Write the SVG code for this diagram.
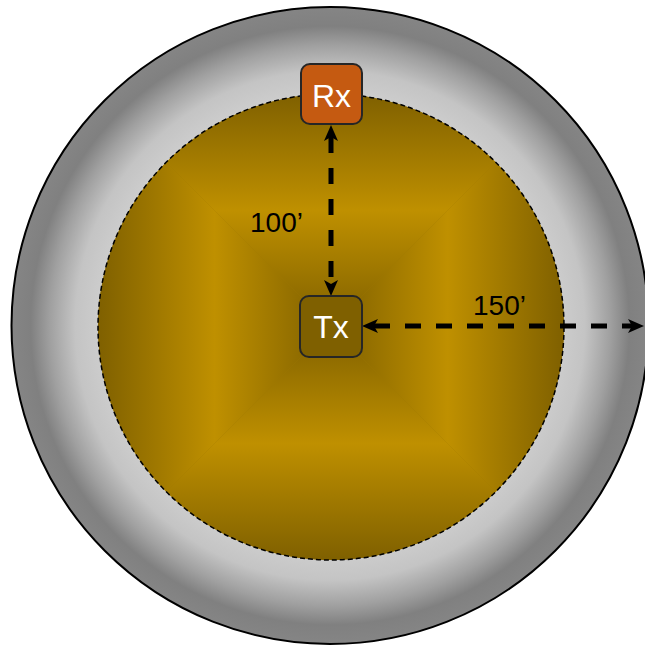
<svg xmlns="http://www.w3.org/2000/svg" width="645" height="647" viewBox="0 0 645 647">
<style>
.lbl{font-family:"Liberation Sans",Arial,sans-serif;font-size:28px;fill:#000;}
.nodetxt{font-family:"Liberation Sans",Arial,sans-serif;font-size:32px;fill:#fff;text-anchor:middle;}
.conn{stroke:#000;stroke-width:5;stroke-dasharray:16 15;fill:none;marker-start:url(#ah);marker-end:url(#ah);}
.box{stroke:#262626;stroke-width:2;}
</style>
<defs>
<radialGradient id="grayG" gradientUnits="userSpaceOnUse" cx="330" cy="325.5" r="318.5">
<stop offset="0" stop-color="#cccccc"/>
<stop offset="0.73" stop-color="#cccccc"/>
<stop offset="0.8" stop-color="#c4c4c4"/>
<stop offset="0.88" stop-color="#a0a0a0"/>
<stop offset="0.94" stop-color="#808080"/>
<stop offset="1" stop-color="#858585"/>
</radialGradient>
<linearGradient id="gT" gradientUnits="userSpaceOnUse" x1="0" y1="94" x2="0" y2="327">
<stop offset="0" stop-color="#7f6000"/><stop offset="0.5" stop-color="#bf9000"/><stop offset="1" stop-color="#7f6000"/>
</linearGradient>
<linearGradient id="gB" gradientUnits="userSpaceOnUse" x1="0" y1="560" x2="0" y2="327">
<stop offset="0" stop-color="#7f6000"/><stop offset="0.5" stop-color="#bf9000"/><stop offset="1" stop-color="#7f6000"/>
</linearGradient>
<linearGradient id="gL" gradientUnits="userSpaceOnUse" x1="98" y1="0" x2="331" y2="0">
<stop offset="0" stop-color="#7f6000"/><stop offset="0.5" stop-color="#bf9000"/><stop offset="1" stop-color="#7f6000"/>
</linearGradient>
<linearGradient id="gR" gradientUnits="userSpaceOnUse" x1="564" y1="0" x2="331" y2="0">
<stop offset="0" stop-color="#7f6000"/><stop offset="0.5" stop-color="#bf9000"/><stop offset="1" stop-color="#7f6000"/>
</linearGradient>
<clipPath id="innerClip"><circle cx="331" cy="327" r="233"/></clipPath>
<marker id="ah" viewBox="0 0 16 14" refX="4" refY="7" markerWidth="16" markerHeight="14" markerUnits="userSpaceOnUse" orient="auto-start-reverse">
<path d="M0,0 L16,7 L0,14 L4,7 z" fill="#000"/>
</marker>
</defs>

<g id="outer-zone">
<circle cx="330" cy="325.5" r="318.5" fill="url(#grayG)" stroke="#000" stroke-width="2"/>
</g>

<g id="inner-zone">
<g clip-path="url(#innerClip)">
<rect x="97" y="93" width="468" height="468" fill="#9f7800"/>
<polygon points="98,94 564,94 331,327" fill="url(#gT)"/>
<polygon points="98,560 564,560 331,327" fill="url(#gB)"/>
<polygon points="98,94 98,560 331,327" fill="url(#gL)"/>
<polygon points="564,94 564,560 331,327" fill="url(#gR)"/>
</g>
<circle cx="331" cy="327" r="233" fill="none" stroke="#000" stroke-width="1.5" stroke-dasharray="5 3"/>
</g>

<g id="connectors">
<line class="conn" x1="331" y1="137" x2="331" y2="284"/>
<line class="conn" x1="374" y1="326" x2="632" y2="326"/>
<text class="lbl" x="250" y="232">100’</text>
<text class="lbl" x="473" y="315">150’</text>
</g>

<g id="Rx">
<rect class="box" x="301" y="64" width="61" height="60" rx="9" fill="#c55a11"/>
<text class="nodetxt" x="331.5" y="107">Rx</text>
</g>

<g id="Tx">
<rect class="box" x="300" y="296" width="62" height="61" rx="9" fill="#7f6000"/>
<text class="nodetxt" x="331" y="338">Tx</text>
</g>
</svg>
